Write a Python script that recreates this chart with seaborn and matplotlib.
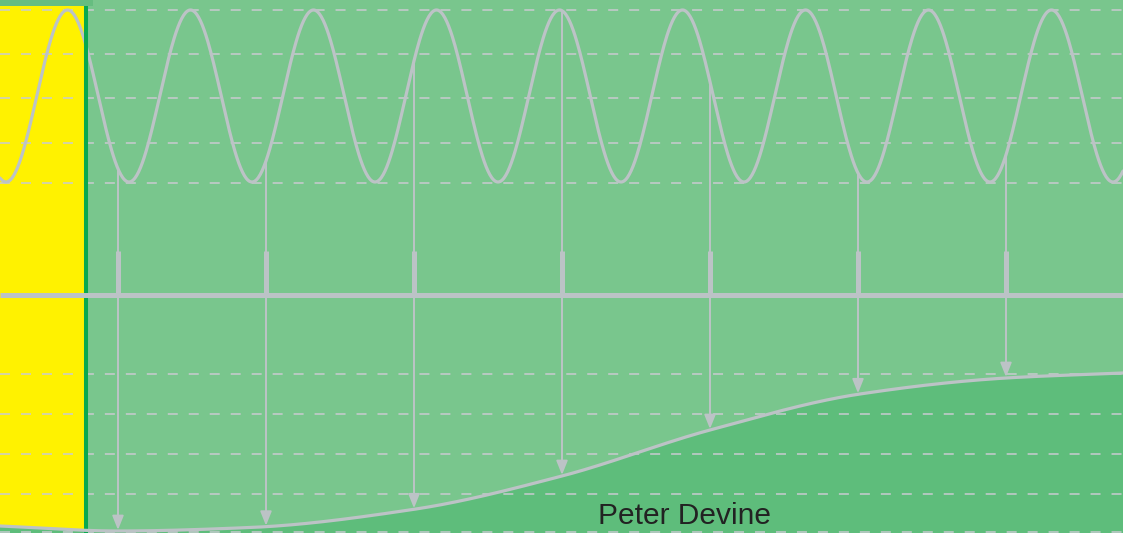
import numpy as np
import pandas as pd
import matplotlib
matplotlib.use("Agg")
import matplotlib.pyplot as plt
import seaborn as sns

# positions on the picture (x to the right, y downwards)
sample_x = [118, 266, 414, 562, 710, 858, 1006]

# carrier wave
wave_top = 10
wave_bottom = 182
wave_period = 123
wave_first_trough = 6

axis_y = 295
tick_top = 251

top_grid_y = [10, 54, 98, 143, 183]
bottom_grid_y = [374, 414, 454, 494, 532]

# output curve
curve_x = [0, 118, 250, 414, 562, 710, 860, 1006, 1123]
curve_y = [526, 531, 527.5, 509.3, 476, 430, 394, 378, 373]

label = "Peter Devine"

bg = "#79c68d"
fill_green = "#5ebd7b"
yellow = "#fff200"
grey = "#bcc3c6"
grid_grey = "#c9cbd0"

sns.set_theme(style="white")
plt.rcParams["font.family"] = ["Liberation Sans", "DejaVu Sans"]
plt.rcParams["lines.scale_dashes"] = False


def smooth(xs, ys, n=800):
    # monotone cubic (Fritsch-Carlson) just to draw the read points as a smooth line
    xs = np.asarray(xs, float)
    ys = np.asarray(ys, float)
    h = np.diff(xs)
    d = np.diff(ys) / h
    m = np.zeros_like(ys)
    m[0], m[-1] = d[0], d[-1]
    for i in range(1, len(xs) - 1):
        if d[i - 1] * d[i] <= 0:
            m[i] = 0
        else:
            w1 = 2 * h[i] + h[i - 1]
            w2 = h[i] + 2 * h[i - 1]
            m[i] = (w1 + w2) / (w1 / d[i - 1] + w2 / d[i])
    xx = np.linspace(xs[0], xs[-1], n)
    k = np.clip(np.searchsorted(xs, xx) - 1, 0, len(xs) - 2)
    t = (xx - xs[k]) / h[k]
    h00 = 2 * t**3 - 3 * t**2 + 1
    h10 = t**3 - 2 * t**2 + t
    h01 = -2 * t**3 + 3 * t**2
    h11 = t**3 - t**2
    yy = h00 * ys[k] + h10 * h[k] * m[k] + h01 * ys[k + 1] + h11 * h[k] * m[k + 1]
    return xx, yy


W, H = 1123, 533
fig = plt.figure(figsize=(W / 100, H / 100), dpi=100, facecolor=bg)
ax = fig.add_axes([0, 0, 1, 1])
ax.set_xlim(0, W)
ax.set_ylim(H, 0)
ax.axis("off")

# yellow block on the left + darker strip on top
ax.axvspan(0, 86, ymin=0, ymax=1 - 6 / H, color=yellow, lw=0, zorder=1)
ax.fill_between([0, 93], 0, 6, color="#66bd80", lw=0, zorder=1)

# filled area below the output curve
cx, cy = smooth(curve_x, curve_y)
ax.fill_between(cx, cy, H, color=fill_green, lw=0, zorder=2)

# dashed guide lines
for gy in top_grid_y + bottom_grid_y:
    ax.axhline(gy, color=grid_grey, lw=1.1, dashes=(7.2, 7.9), zorder=3)

# carrier wave
mid = (wave_top + wave_bottom) / 2
amp = (wave_bottom - wave_top) / 2
def wave(x):
    return mid + amp * np.cos(2 * np.pi * (np.asarray(x) - wave_first_trough) / wave_period)

wx = np.linspace(0, W, 1200)
sine_df = pd.DataFrame({"x": wx, "y": wave(wx)})
sns.lineplot(data=sine_df, x="x", y="y", ax=ax, color=grey, lw=2.3, zorder=4, sort=False)

# green divider
ax.vlines(86, 6, H, color="#0aa84f", lw=2.9, zorder=5)

# horizontal axis and ticks
ax.hlines(axis_y, 0, W, color=grey, lw=3.6, zorder=6)
ax.vlines(sample_x, tick_top, axis_y, color=grey, lw=3.6, zorder=6)

# sampling arrows
start_y = wave(sample_x)
end_y = np.interp(sample_x, cx, cy)
for sx, y0, y1 in zip(sample_x, start_y, end_y):
    ax.annotate("", xy=(sx, y1 - 1), xytext=(sx, y0),
                arrowprops=dict(arrowstyle="-|>,head_length=0.85,head_width=0.34",
                                color=grey, lw=1.4, shrinkA=0, shrinkB=0,
                                mutation_scale=10),
                zorder=7)

# output curve
curve_df = pd.DataFrame({"x": cx, "y": cy})
sns.lineplot(data=curve_df, x="x", y="y", ax=ax, color=grey, lw=2.3, zorder=8, sort=False)

ax.text(685, 523.5, label, ha="center", va="baseline", fontsize=21.5, color="#222222", zorder=9)

ax.set_xlim(0, W)
ax.set_ylim(H, 0)
fig.savefig("out.png", dpi=100, facecolor=bg)
